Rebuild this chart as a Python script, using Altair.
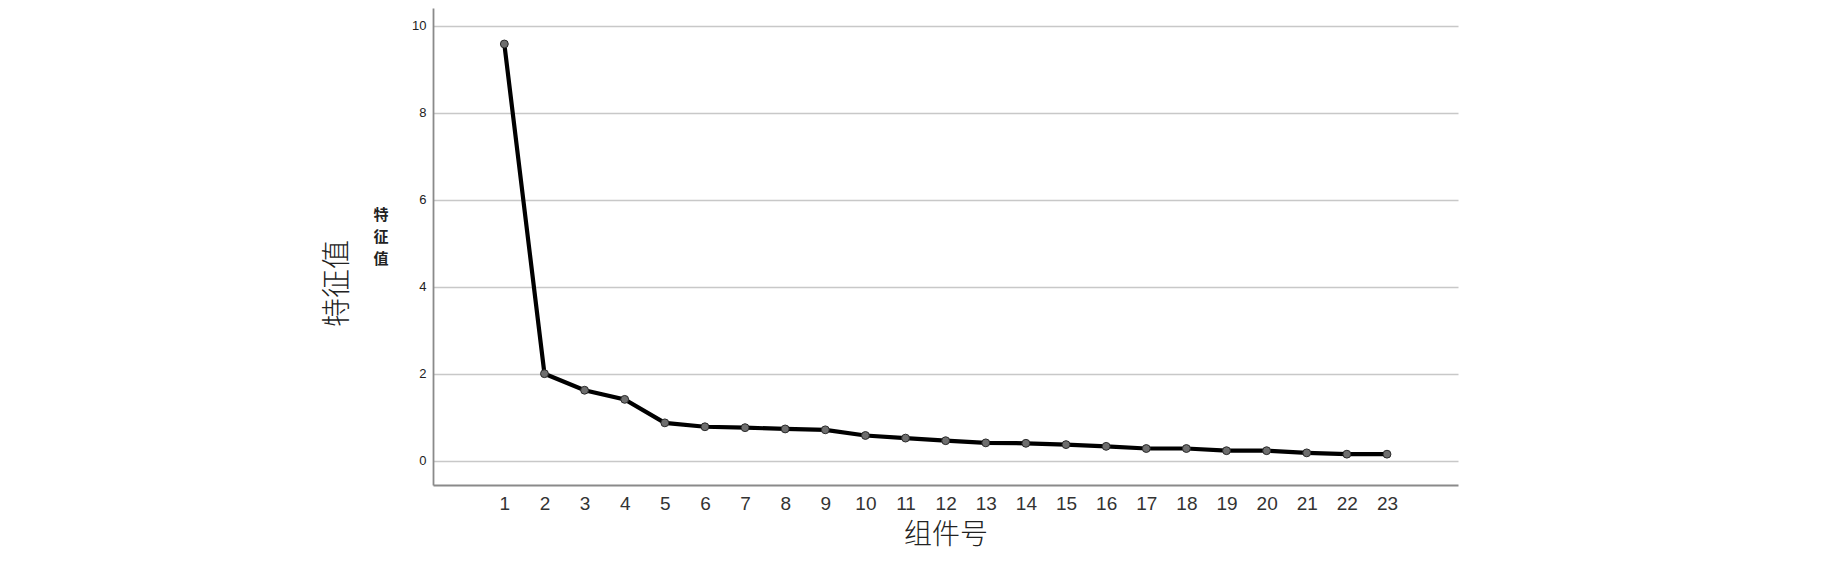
import altair as alt
import pandas as pd

components = list(range(1, 24))
eigenvalues = [9.58, 2.00, 1.62, 1.41, 0.87, 0.78, 0.76, 0.73, 0.71, 0.58,
               0.52, 0.46, 0.41, 0.40, 0.37, 0.33, 0.28, 0.28, 0.23, 0.23,
               0.18, 0.15, 0.15]
y_ticks = [0, 2, 4, 6, 8, 10]

df = pd.DataFrame({"组件号": components, "特征值": eigenvalues})

x_enc = alt.X(
    "组件号:Q",
    scale=alt.Scale(domain=[-0.778, 24.77], nice=False, zero=False),
    axis=alt.Axis(
        values=components, grid=False, ticks=False,
        domainColor="#8a8a8a", domainWidth=1.8,
        labelFont="Liberation Sans", labelFontSize=19, labelColor="#333333",
        labelPadding=9, labelFlush=False,
        title="组件号", titleFont="Noto Sans CJK SC", titleFontWeight=300,
        titleFontSize=28, titleColor="#222222", titlePadding=8,
    ),
)
y_enc = alt.Y(
    "特征值:Q",
    scale=alt.Scale(domain=[-0.5586, 10.407], nice=False, zero=False),
    axis=alt.Axis(
        values=y_ticks, grid=True, gridColor="#c8c8c8", gridWidth=1.3,
        ticks=False, domainColor="#8a8a8a", domainWidth=1.8,
        labelFont="Liberation Sans", labelFontSize=13, labelColor="#222222",
        labelPadding=7,
        title="特征值", titleFont="Noto Sans CJK SC", titleFontWeight=300,
        titleFontSize=29, titleColor="#222222", titleAngle=270,
        titleX=-96, titleY=275, titleAlign="center", titleBaseline="middle",
    ),
)

line = alt.Chart(df).mark_line(color="#000000", strokeWidth=4.2).encode(x=x_enc, y=y_enc)
points = alt.Chart(df).mark_point(
    filled=True, shape="circle", size=62, fill="#6e6e6e",
    stroke="#2a2a2a", strokeWidth=1, opacity=1,
).encode(x=x_enc, y=y_enc)

chart = (
    alt.layer(line, points)
    .properties(
        width=1025,
        height=477,
        autosize=alt.AutoSizeParams(type="none"),
        padding={"left": 425, "top": 0, "right": 346, "bottom": 72},
        title=alt.TitleParams(
            text=["特", "征", "值"], orient="top", anchor="start", frame="group",
            align="center", baseline="top", dx=-52, dy=263,
            font="Noto Sans CJK SC", fontSize=15, fontWeight="bold",
            lineHeight=22, color="#222222",
        ),
    )
    .configure_view(stroke=None)
)

chart.save("out.html", embed_options={"renderer": "svg", "actions": False})
